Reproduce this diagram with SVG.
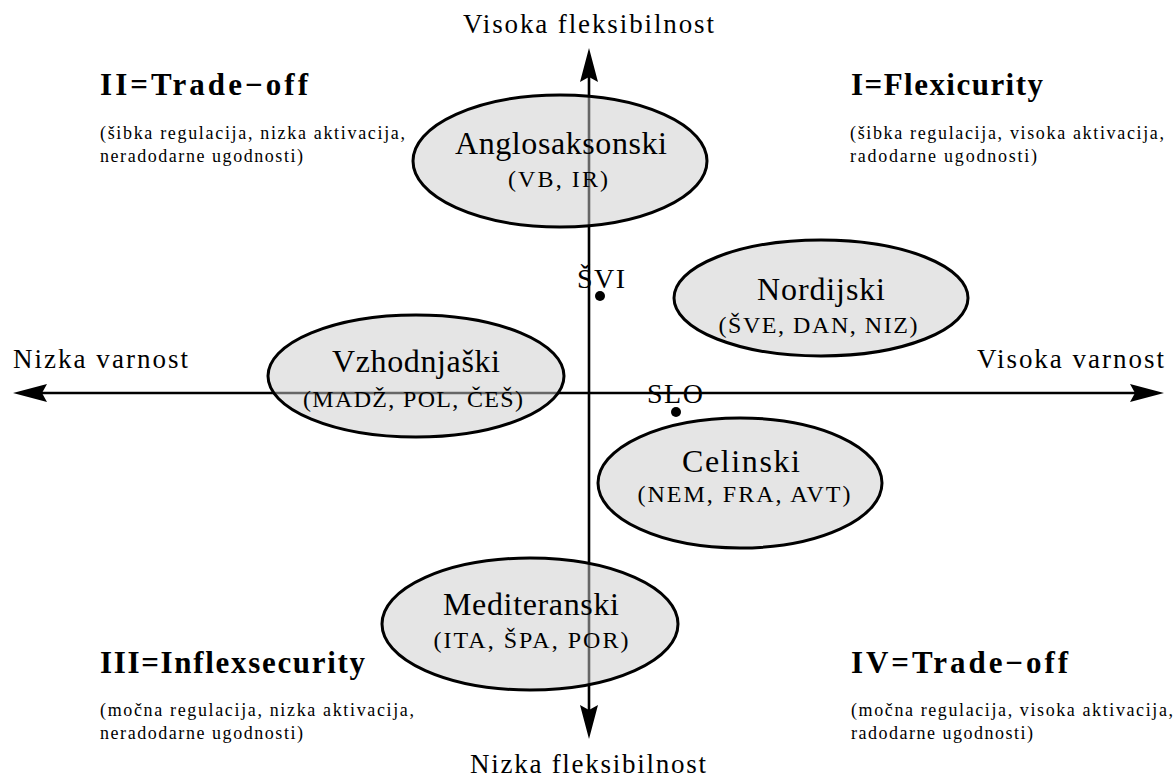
<svg xmlns="http://www.w3.org/2000/svg" width="1175" height="780" viewBox="0 0 1175 780">
<style>
.ax{stroke:#000;stroke-width:2.6;fill:none}
.el{fill:#cccccc;fill-opacity:0.5;stroke:#000;stroke-width:3}
text{font-family:"Liberation Serif","Times New Roman",serif;fill:#000}
.axl{font-size:27px}
.hd{font-size:31px;font-weight:bold}
.sm{font-size:18px}
.tt{font-size:32px;text-anchor:middle}
.st{font-size:24px;text-anchor:middle}
.pt{font-size:28px}
</style>
<defs>
<marker id="arr" markerUnits="userSpaceOnUse" markerWidth="36" markerHeight="20" refX="24" refY="9" orient="auto" overflow="visible">
<path d="M0,0 L34,9 L0,18 L5,9 Z" fill="#000"/>
</marker>
</defs>
<rect width="1175" height="780" fill="#fff"/>
<g id="connectors">
<line class="ax" x1="589" y1="393" x2="589" y2="58" marker-end="url(#arr)"/>
<line class="ax" x1="589" y1="393" x2="589" y2="729" marker-end="url(#arr)"/>
<line class="ax" x1="589" y1="393" x2="23" y2="393" marker-end="url(#arr)"/>
<line class="ax" x1="589" y1="393" x2="1154" y2="393" marker-end="url(#arr)"/>
</g>
<g id="axis-labels">
<text class="axl" x="463" y="33" textLength="251" lengthAdjust="spacing">Visoka fleksibilnost</text>
<text class="axl" x="470" y="773" textLength="236" lengthAdjust="spacing">Nizka fleksibilnost</text>
<text class="axl" x="13" y="368" textLength="175" lengthAdjust="spacing">Nizka varnost</text>
<text class="axl" x="977" y="368" textLength="187" lengthAdjust="spacing">Visoka varnost</text>
</g>
<g id="quadrant-II">
<text class="hd" x="100" y="95" textLength="208" lengthAdjust="spacing">II=Trade−off</text>
<text class="sm" x="100" y="139" textLength="305" lengthAdjust="spacing">(šibka regulacija, nizka aktivacija,</text>
<text class="sm" x="100" y="162" textLength="203" lengthAdjust="spacing">neradodarne ugodnosti)</text>
</g>
<g id="quadrant-I">
<text class="hd" x="851" y="95" textLength="192" lengthAdjust="spacing">I=Flexicurity</text>
<text class="sm" x="850" y="139" textLength="314" lengthAdjust="spacing">(šibka regulacija, visoka aktivacija,</text>
<text class="sm" x="850" y="162" textLength="187" lengthAdjust="spacing">radodarne ugodnosti)</text>
</g>
<g id="quadrant-III">
<text class="hd" x="100" y="673" textLength="265" lengthAdjust="spacing">III=Inflexsecurity</text>
<text class="sm" x="100" y="716" textLength="314" lengthAdjust="spacing">(močna regulacija, nizka aktivacija,</text>
<text class="sm" x="100" y="739" textLength="203" lengthAdjust="spacing">neradodarne ugodnosti)</text>
</g>
<g id="quadrant-IV">
<text class="hd" x="851" y="673" textLength="217" lengthAdjust="spacing">IV=Trade−off</text>
<text class="sm" x="851" y="716" textLength="322" lengthAdjust="spacing">(močna regulacija, visoka aktivacija,</text>
<text class="sm" x="851" y="739" textLength="182" lengthAdjust="spacing">radodarne ugodnosti)</text>
</g>
<g id="anglosaksonski">
<ellipse class="el" cx="560" cy="161" rx="147" ry="66"/>
<text class="tt" x="561" y="154" textLength="212" lengthAdjust="spacing">Anglosaksonski</text>
<text class="st" x="558" y="187" textLength="100" lengthAdjust="spacing">(VB, IR)</text>
</g>
<g id="nordijski">
<ellipse class="el" cx="821" cy="298" rx="147" ry="58"/>
<text class="tt" x="821" y="300" textLength="128" lengthAdjust="spacing">Nordijski</text>
<text class="st" x="818" y="333" textLength="199" lengthAdjust="spacing">(ŠVE, DAN, NIZ)</text>
</g>
<g id="vzhodnjaski">
<ellipse class="el" cx="416" cy="376" rx="148" ry="61"/>
<text class="tt" x="416" y="372" textLength="168" lengthAdjust="spacing">Vzhodnjaški</text>
<text class="st" x="413" y="407" textLength="220" lengthAdjust="spacing">(MADŽ, POL, ČEŠ)</text>
</g>
<g id="celinski">
<ellipse class="el" cx="740" cy="483" rx="142" ry="65"/>
<text class="tt" x="741" y="472" textLength="118" lengthAdjust="spacing">Celinski</text>
<text class="st" x="744" y="502" textLength="213" lengthAdjust="spacing">(NEM, FRA, AVT)</text>
</g>
<g id="mediteranski">
<ellipse class="el" cx="530" cy="624" rx="148" ry="66"/>
<text class="tt" x="531" y="615" textLength="176" lengthAdjust="spacing">Mediteranski</text>
<text class="st" x="531" y="648" textLength="195" lengthAdjust="spacing">(ITA, ŠPA, POR)</text>
</g>
<g id="svi">
<text class="pt" x="577" y="288" textLength="48" lengthAdjust="spacing">ŠVI</text>
<circle cx="600" cy="296" r="5" fill="#000"/>
</g>
<g id="slo">
<text class="pt" x="647" y="403" textLength="56" lengthAdjust="spacing">SLO</text>
<circle cx="676" cy="412" r="5" fill="#000"/>
</g>
</svg>
